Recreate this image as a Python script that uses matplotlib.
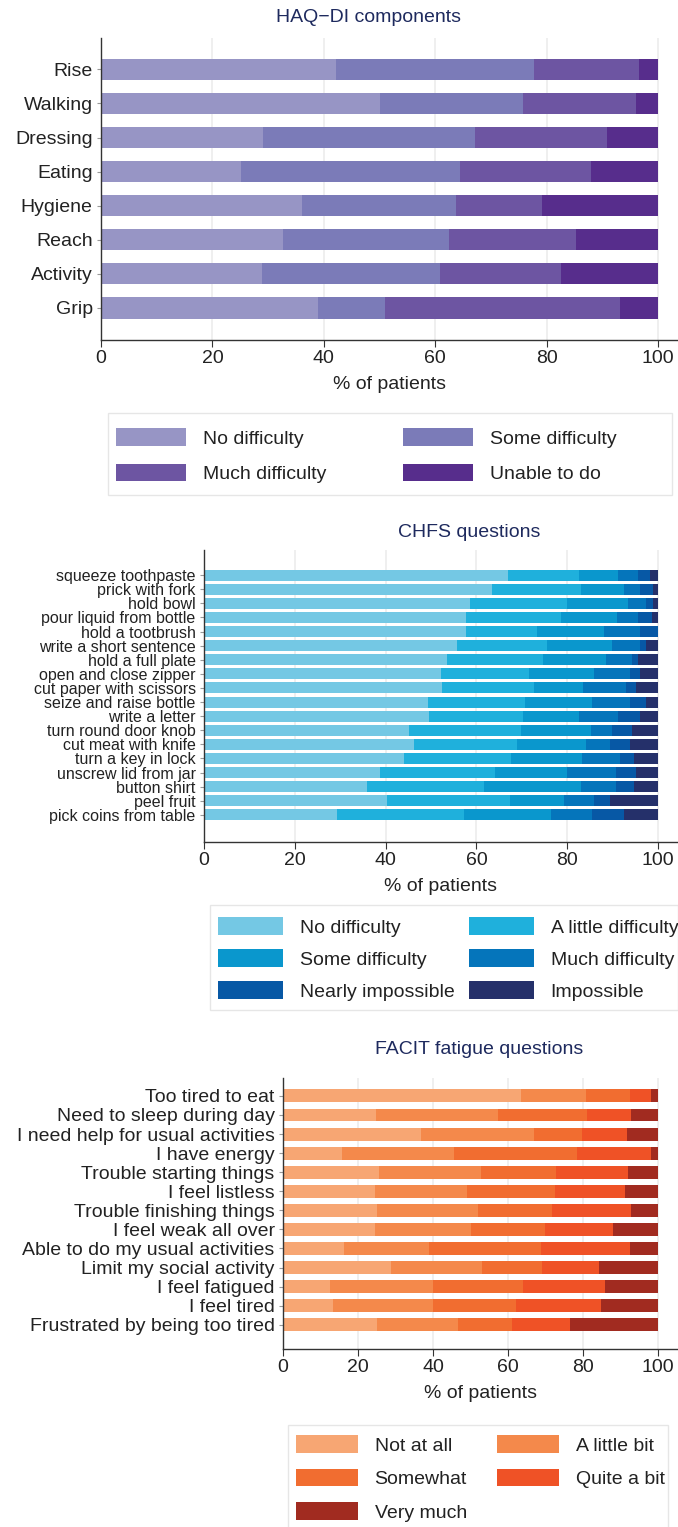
import matplotlib
matplotlib.use("Agg")
import matplotlib.pyplot as plt
from matplotlib.patches import Patch, Rectangle
import numpy as np

plt.rcParams['font.family'] = ['Liberation Sans', 'DejaVu Sans']

# ---------------- data ----------------
haq_items = ["Rise", "Walking", "Dressing", "Eating", "Hygiene", "Reach", "Activity", "Grip"]
haq_levels = ["No difficulty", "Some difficulty", "Much difficulty", "Unable to do"]
haq_no = [42.2, 50.1, 29.0, 25.1, 36.0, 32.6, 28.9, 38.9]
haq_some = [35.6, 25.6, 38.2, 39.3, 27.7, 29.9, 32.0, 12.0]
haq_much = [18.7, 20.4, 23.6, 23.6, 15.5, 22.8, 21.6, 42.3]
haq_unable = [3.5, 3.9, 9.2, 12.0, 20.8, 14.7, 17.5, 6.8]
haq_colors = ["#9795c5", "#7b7bb8", "#6d55a2", "#572d8c"]

chfs_items = ["squeeze toothpaste", "prick with fork", "hold bowl", "pour liquid from bottle",
              "hold a tootbrush", "write a short sentence", "hold a full plate",
              "open and close zipper", "cut paper with scissors", "seize and raise bottle",
              "write a letter", "turn round door knob", "cut meat with knife",
              "turn a key in lock", "unscrew lid from jar", "button shirt", "peel fruit",
              "pick coins from table"]
chfs_levels = ["No difficulty", "A little difficulty", "Some difficulty",
               "Much difficulty", "Nearly impossible", "Impossible"]
chfs_no = [66.9, 63.4, 58.6, 57.7, 57.7, 55.8, 53.5, 52.2, 52.5, 49.4, 49.6, 45.1, 46.2, 44.0, 38.8, 35.9, 40.4, 29.4]
chfs_little = [15.7, 19.6, 21.3, 20.9, 15.6, 19.7, 21.2, 19.3, 20.1, 21.2, 20.7, 24.8, 22.8, 23.6, 25.3, 25.7, 26.9, 27.8]
chfs_some = [8.6, 9.5, 13.4, 12.3, 14.9, 14.3, 13.9, 14.5, 10.8, 14.8, 12.2, 15.3, 15.1, 15.7, 15.8, 21.4, 11.9, 19.2]
chfs_much = [4.3, 3.6, 4.0, 4.6, 7.8, 6.2, 5.7, 7.8, 9.6, 8.4, 8.6, 4.7, 5.3, 8.3, 10.9, 7.8, 6.7, 9.1]
chfs_nearly = [2.7, 2.9, 1.7, 3.1, 4.0, 1.3, 1.2, 2.2, 2.1, 3.5, 4.9, 4.4, 4.4, 3.1, 4.3, 3.9, 3.5, 7.1]
chfs_imposs = [1.8, 1.0, 1.0, 1.4, 0.0, 2.7, 4.5, 4.0, 4.9, 2.7, 4.0, 5.7, 6.2, 5.3, 4.9, 5.3, 10.6, 7.4]
chfs_colors = ["#74c8e4", "#1fb0dc", "#0a97cd", "#0575bb", "#0758a5", "#25306a"]

facit_items = ["Too tired to eat", "Need to sleep during day", "I need help for usual activities",
               "I have energy", "Trouble starting things", "I feel listless",
               "Trouble finishing things", "I feel weak all over",
               "Able to do my usual activities", "Limit my social activity",
               "I feel fatigued", "I feel tired", "Frustrated by being too tired"]
facit_levels = ["Not at all", "A little bit", "Somewhat", "Quite a bit", "Very much"]
facit_not = [63.5, 24.7, 36.9, 15.7, 25.5, 24.4, 25.0, 24.4, 16.2, 28.7, 12.5, 13.3, 25.0]
facit_little = [17.3, 32.7, 30.0, 29.8, 27.4, 24.7, 27.1, 25.6, 22.6, 24.4, 27.4, 26.8, 21.6]
facit_somewhat = [11.7, 23.6, 12.8, 32.9, 19.9, 23.4, 19.6, 19.8, 29.9, 16.0, 24.1, 22.1, 14.5]
facit_quite = [5.5, 11.7, 12.1, 19.6, 19.2, 18.6, 21.0, 18.2, 23.7, 15.1, 21.8, 22.5, 15.3]
facit_very = [2.0, 7.3, 8.2, 2.0, 8.0, 8.9, 7.3, 12.0, 7.6, 15.8, 14.2, 15.3, 23.6]
facit_colors = ["#f7a673", "#f4894b", "#f16d30", "#ef5226", "#a12b20"]

xticks = [0, 20, 40, 60, 80, 100]

# ---------------- layout ----------------
W, H = 678, 1527
fig = plt.figure(figsize=(W / 100, H / 100), dpi=100)
TITLE_COLOR = "#1e2a5e"
FS = 14


def rect(x0, y0, x1, y1):
    return [x0 / W, 1 - y1 / H, (x1 - x0) / W, (y1 - y0) / H]


def panel(box, x100, items, series, colors, ylim, bar_h, ylab_fs):
    ax = fig.add_axes(rect(*box))
    y = np.arange(len(items))
    left = np.zeros(len(items))
    for vals, c in zip(series, colors):
        vals = np.asarray(vals)
        ax.barh(y, vals, left=left, height=bar_h, color=c, edgecolor="none", zorder=2)
        left += vals
    span = box[2] - box[0]
    ax.set_xlim(0, 100 * span / (x100 - box[0]))
    ax.set_ylim(*ylim)
    ax.set_yticks(y)
    ax.set_yticklabels(items, fontsize=ylab_fs, color="#222222")
    ax.set_xticks(xticks)
    ax.set_xticklabels([str(t) for t in xticks], fontsize=FS, color="#222222")
    ax.set_xlabel("% of patients", fontsize=FS, color="#222222", labelpad=7)
    ax.grid(axis="x", color="#ececec", linewidth=1.2, zorder=0)
    ax.set_axisbelow(True)
    for s in ("top", "right"):
        ax.spines[s].set_visible(False)
    for s in ("left", "bottom"):
        ax.spines[s].set_color("#333333")
        ax.spines[s].set_linewidth(1.0)
    ax.tick_params(axis="x", length=5, width=0.8, color="#333333", pad=2)
    ax.tick_params(axis="y", length=3, width=0.8, color="#999999", pad=3)
    return ax


def legend_col(labels, colors, x_patch, y_top, hl_px, hh_px, row_px):
    handles = [Patch(facecolor=c, edgecolor="none") for c in colors]
    fpx = FS * 100 / 72
    leg = fig.legend(handles, labels, loc="upper left",
                     bbox_to_anchor=(x_patch / W, 1 - y_top / H),
                     frameon=False, fontsize=FS, borderpad=0, borderaxespad=0,
                     handlelength=hl_px / fpx, handleheight=hh_px / fpx,
                     handletextpad=0.85, labelspacing=(row_px - hh_px) / fpx)
    for t in leg.get_texts():
        t.set_color("#222222")
    return leg


def legend_frame(x0, y0, x1, y1):
    fig.patches.append(Rectangle((x0 / W, 1 - y1 / H), (x1 - x0) / W, (y1 - y0) / H,
                                 transform=fig.transFigure, facecolor="none",
                                 edgecolor="#e6e6e6", linewidth=1.0))


# ---- HAQ panel ----
fig.text(369 / W, 1 - 17 / H, "HAQ\u2212DI components", ha="center", va="center",
         fontsize=FS, color=TITLE_COLOR)
panel((101, 38, 678, 340), 658, haq_items,
      [haq_no, haq_some, haq_much, haq_unable], haq_colors,
      (7.94, -0.92), 0.62, FS)
legend_frame(108, 413, 672, 495)
legend_col([haq_levels[0], haq_levels[2]], [haq_colors[0], haq_colors[2]], 116, 428, 70, 20, 36)
legend_col([haq_levels[1], haq_levels[3]], [haq_colors[1], haq_colors[3]], 403, 428, 70, 20, 36)

# ---- CHFS panel ----
fig.text(469 / W, 1 - 533 / H, "CHFS questions", ha="center", va="center",
         fontsize=FS, color=TITLE_COLOR)
panel((204, 550, 678, 842), 658, chfs_items,
      [chfs_no, chfs_little, chfs_some, chfs_much, chfs_nearly, chfs_imposs], chfs_colors,
      (17 + 1.92, -1.78), 0.78, 11.5)
legend_frame(210, 905, 678, 1010)
legend_col([chfs_levels[0], chfs_levels[2], chfs_levels[4]],
           [chfs_colors[0], chfs_colors[2], chfs_colors[4]], 218, 917, 65, 20, 32.5)
legend_col([chfs_levels[1], chfs_levels[3], chfs_levels[5]],
           [chfs_colors[1], chfs_colors[3], chfs_colors[5]], 469, 917, 65, 20, 32.5)

# ---- FACIT panel ----
fig.text(479 / W, 1 - 1050 / H, "FACIT fatigue questions", ha="center", va="center",
         fontsize=FS, color=TITLE_COLOR)
panel((283, 1078, 678, 1349), 658, facit_items,
      [facit_not, facit_little, facit_somewhat, facit_quite, facit_very], facit_colors,
      (12 + 1.27, -0.94), 0.68, FS)
legend_frame(288, 1425, 668, 1530)
legend_col([facit_levels[0], facit_levels[2], facit_levels[4]],
           [facit_colors[0], facit_colors[2], facit_colors[4]], 296, 1435, 62, 20, 34)
legend_col([facit_levels[1], facit_levels[3]],
           [facit_colors[1], facit_colors[3]], 497, 1435, 62, 20, 34)

fig.savefig("out.png", dpi=100, facecolor="white")
